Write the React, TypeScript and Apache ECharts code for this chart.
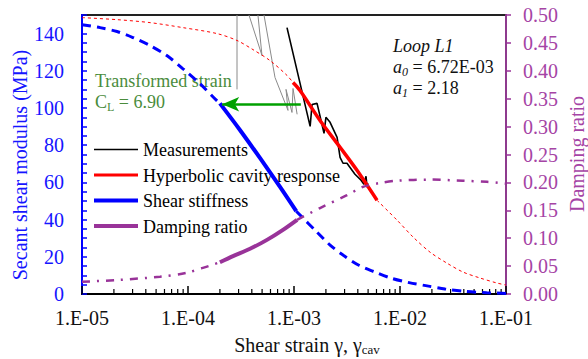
import React, { useEffect, useRef } from 'react';
import * as echarts from 'echarts';

const FONT = "Liberation Serif, Times New Roman, serif";

// X-axis decades (tick labels)
const decadeStrains = [1e-5, 1e-4, 1e-3, 1e-2, 1e-1];
const minorMultipliers = [2, 3, 4, 5, 6, 7, 8, 9];

// Measurements (black, last loop)
const measStrain = [8.59e-4, 1.42e-3, 1.48e-3, 1.65e-3, 1.92e-3, 2.0e-3, 2.19e-3, 2.55e-3, 2.72e-3, 2.9e-3, 3.16e-3, 3.76e-3, 4.29e-3, 4.57e-3, 4.78e-3, 4.89e-3, 4.99e-3];
const measModulus = [143.2, 90.1, 101.9, 102.5, 86.4, 95.0, 92.3, 84.2, 73.5, 70.3, 70.3, 64.4, 61.2, 59.0, 63.3, 57.4, 59.5];

// Earlier loops (grey); null = break in the line
const greyStrain = [2.9e-4, 2.9e-4, 3.3e-4, 3.76e-4, 4.99e-4, 4.57e-4, 4.9e-4, 5.21e-4, 6.62e-4, 8.78e-4, 8.41e-4, 9.57e-4, 9.79e-4, 1.07e-3];
const greyModulus = [150, 110.0, null, 150, 128.2, 150, null, 150, 116.4, 98.7, 110.0, 97.6, 110.5, 96.6];

// Hyperbolic cavity response (red)
const hypStrainA = [1e-5, 2.14e-5, 4.39e-5, 8.98e-5, 1.88e-4, 2.9e-4, 4.1e-4, 5.94e-4, 8.6e-4, 9.79e-4];
const hypModulusA = [148.6, 147.5, 145.9, 143.2, 140.0, 136.3, 131.4, 125.5, 117.5, 113.7];
const hypStrainFit = [9.79e-4, 1.14e-3, 1.76e-3, 2.72e-3, 3.93e-3, 6.07e-3];
const hypModulusFit = [113.7, 109.4, 93.3, 78.9, 66.5, 50.4];
const hypStrainB = [6.07e-3, 9.38e-3, 1.33e-2, 1.92e-2, 2.77e-2, 3.93e-2, 5.69e-2, 8.22e-2, 1e-1];
const hypModulusB = [50.4, 39.7, 30.6, 22.5, 16.6, 11.8, 8.6, 5.9, 4.8];

// Shear stiffness (blue)
const stiffStrainA = [1e-5, 1.48e-5, 2.14e-5, 3.02e-5, 4.37e-5, 6.31e-5, 8.91e-5, 1.29e-4, 1.86e-4, 2.0e-4];
const stiffModulusA = [144.8, 143.2, 141.1, 137.9, 133.6, 128.2, 121.2, 113.2, 104.1, 102.5];
const stiffStrainFit = [2.0e-4, 3.09e-4, 4.79e-4, 7.41e-4, 1.05e-3];
const stiffModulusFit = [102.5, 88.2, 73.0, 57.4, 44.5];
const stiffStrainB = [1.05e-3, 1.64e-3, 2.19e-3, 2.92e-3, 4.05e-3, 5.69e-3, 8.17e-3, 1.22e-2, 1.75e-2, 2.66e-2, 4.1e-2, 6.58e-2, 1e-1];
const stiffModulusB = [44.5, 33.4, 26.3, 20.8, 15.6, 12.0, 8.6, 6.1, 4.5, 2.7, 1.4, 0.7, 0.3];

// Damping ratio (purple, right axis)
const dampStrainA = [1e-5, 2.12e-5, 5.44e-5, 9.72e-5, 1.56e-4, 2.0e-4];
const dampA = [0.022, 0.025, 0.031, 0.038, 0.050, 0.057];
const dampStrainFit = [2.0e-4, 2.66e-4, 3.85e-4, 5.56e-4, 7.87e-4, 1.07e-3];
const dampFit = [0.057, 0.068, 0.081, 0.097, 0.115, 0.133];
const dampStrainB = [1.07e-3, 1.76e-3, 3.16e-3, 4.48e-3, 6.47e-3, 9.38e-3, 1.92e-2, 3.93e-2, 6.62e-2, 1e-1];
const dampB = [0.133, 0.154, 0.177, 0.192, 0.199, 0.203, 0.205, 0.203, 0.201, 0.198];

// Transformed-strain arrow
const arrowStrain = [1.16e-3, 2.1e-4];
const arrowModulus = 102;

const legendItems = ['Measurements', 'Hyperbolic cavity response', 'Shear stiffness', 'Damping ratio'];

const BLUE = '#0000ff';
const BLUE_TEXT = '#1515ff';
const RED = '#ff0000';
const PURPLE = '#993399';
const PURPLE_TEXT = '#a544a5';
const GREEN = '#00a000';
const GREEN_TEXT = '#4a8c3c';

const pairs = (xs: number[], ys: (number | null)[]) => xs.map((x, i) => [x, ys[i] === null ? '-' : ys[i]]);

export default function App() {
  const ref = useRef<HTMLDivElement>(null);
  useEffect(() => {
    document.body.style.margin = '0';
    if (!ref.current) return;
    const chart = echarts.init(ref.current, undefined, { renderer: 'svg' });

    const minorTicks: number[][] = [];
    decadeStrains.slice(0, -1).forEach((d) => minorMultipliers.forEach((m) => minorTicks.push([d * m, 0])));

    const lineBase = { type: 'line', showSymbol: false, symbol: 'none', silent: true };

    const legendColors = ['#000', RED, BLUE, PURPLE];
    const legendWidths = [1.5, 3, 4, 4];
    const legendY = [149.5, 175, 200.5, 226];
    const legendGraphics: any[] = [];
    legendItems.forEach((name, i) => {
      legendGraphics.push({
        type: 'line', shape: { x1: 94, y1: legendY[i], x2: 138, y2: legendY[i] },
        style: { stroke: legendColors[i], lineWidth: legendWidths[i] },
      });
      legendGraphics.push({
        type: 'text', x: 143, y: legendY[i] + 0.5,
        style: { text: name, fontFamily: FONT, fontSize: 18, fill: '#000', align: 'left', verticalAlign: 'middle' },
      });
    });

    const option: any = {
      animation: false,
      grid: { left: 82, right: 82, top: 15, bottom: 65, show: true, borderColor: '#222', borderWidth: 2, backgroundColor: 'transparent' },
      xAxis: {
        type: 'log', logBase: 10, min: 1e-5, max: 1e-1,
        axisLine: { lineStyle: { color: '#000', width: 2 } },
        axisTick: { inside: true, length: 8, lineStyle: { color: '#000', width: 1.5 } },
        splitLine: { show: false },
        axisLabel: {
          color: '#111', fontFamily: FONT, fontSize: 20, margin: 14,
          formatter: (v: number) => {
            const e = Math.round(Math.log10(v));
            return '1.E' + (e < 0 ? '-' : '+') + String(Math.abs(e)).padStart(2, '0');
          },
        },
      },
      yAxis: [
        {
          type: 'value', min: 0, max: 150, interval: 5, position: 'left',
          axisLine: { show: true, lineStyle: { color: BLUE, width: 2 } },
          axisTick: { show: true, inside: true, length: 5, interval: 0, lineStyle: { color: BLUE, width: 1.5 } },
          splitLine: { show: false },
          axisLabel: {
            interval: 0, color: BLUE_TEXT, fontFamily: FONT, fontSize: 20, margin: 18,
            formatter: (v: number) => (Math.round(v) % 20 === 0 ? String(Math.round(v)) : ''),
          },
        },
        {
          type: 'value', min: 0, max: 0.5, interval: 0.05, position: 'right',
          axisLine: { show: true, lineStyle: { color: '#8e3a8e', width: 2 } },
          axisTick: { show: true, inside: false, length: 5, interval: 0, lineStyle: { color: PURPLE, width: 1.5 } },
          splitLine: { show: false },
          axisLabel: {
            interval: 0, color: PURPLE_TEXT, fontFamily: FONT, fontSize: 20, margin: 17,
            formatter: (v: number) => v.toFixed(2),
          },
        },
      ],
      series: [
        {
          type: 'custom', silent: true, clip: false, data: minorTicks, encode: { x: 0, y: 1 },
          renderItem: (params: any, api: any) => {
            const p = api.coord([api.value(0), api.value(1)]);
            return { type: 'line', shape: { x1: p[0], y1: p[1], x2: p[0], y2: p[1] - 5 }, style: { stroke: '#000', lineWidth: 1.2 } };
          },
        },
        { ...lineBase, name: 'Earlier loops', data: pairs(greyStrain, greyModulus), connectNulls: false, lineStyle: { color: '#8a8a8a', width: 1 } },
        { ...lineBase, name: 'Measurements', data: pairs(measStrain, measModulus), lineStyle: { color: '#000', width: 1.6 } },
        { ...lineBase, name: 'Hyperbolic (extrapolated)', data: pairs(hypStrainA, hypModulusA), smooth: 0.3, lineStyle: { color: RED, width: 1, type: [3, 3] } },
        { ...lineBase, name: 'Hyperbolic (extrapolated) 2', data: pairs(hypStrainB, hypModulusB), smooth: 0.3, lineStyle: { color: RED, width: 1, type: [3, 3] } },
        { ...lineBase, name: 'Hyperbolic cavity response', data: pairs(hypStrainFit, hypModulusFit), smooth: 0.3, lineStyle: { color: RED, width: 3.5 } },
        { ...lineBase, name: 'Shear stiffness (extrapolated)', data: pairs(stiffStrainA, stiffModulusA), smooth: 0.3, lineStyle: { color: BLUE, width: 3, type: [9, 6] } },
        { ...lineBase, name: 'Shear stiffness (extrapolated) 2', data: pairs(stiffStrainB, stiffModulusB), smooth: 0.3, lineStyle: { color: BLUE, width: 3, type: [9, 6] } },
        { ...lineBase, name: 'Shear stiffness', data: pairs(stiffStrainFit, stiffModulusFit), smooth: 0.3, lineStyle: { color: BLUE, width: 4 } },
        { ...lineBase, name: 'Damping (extrapolated)', yAxisIndex: 1, data: pairs(dampStrainA, dampA), smooth: 0.3, lineStyle: { color: PURPLE, width: 2.5, type: [8, 7, 2, 7] } },
        { ...lineBase, name: 'Damping (extrapolated) 2', yAxisIndex: 1, data: pairs(dampStrainB, dampB), smooth: 0.3, lineStyle: { color: PURPLE, width: 2.5, type: [8, 7, 2, 7] } },
        { ...lineBase, name: 'Damping ratio', yAxisIndex: 1, data: pairs(dampStrainFit, dampFit), smooth: 0.3, lineStyle: { color: PURPLE, width: 4 } },
        {
          ...lineBase, name: 'Transformed strain', data: [],
          markLine: {
            silent: true, animation: false, symbol: ['none', 'arrow'], symbolSize: [11, 17],
            label: { show: false },
            lineStyle: { color: GREEN, width: 2.5, type: 'solid' },
            data: [[{ coord: [arrowStrain[0], arrowModulus] }, { coord: [arrowStrain[1], arrowModulus] }]],
          },
        },
      ],
      graphic: [
        {
          type: 'text', x: 20, y: 165, rotation: Math.PI / 2,
          style: { text: 'Secant shear modulus (MPa)', fontFamily: FONT, fontSize: 20, fill: BLUE_TEXT, align: 'center', verticalAlign: 'middle' },
        },
        {
          type: 'text', x: 577, y: 154, rotation: Math.PI / 2,
          style: { text: 'Damping ratio', fontFamily: FONT, fontSize: 20, fill: PURPLE_TEXT, align: 'center', verticalAlign: 'middle' },
        },
        {
          type: 'text', x: 307, y: 345,
          style: {
            text: '{n|Shear strain γ, γ}{s|cav}', align: 'center', verticalAlign: 'middle',
            rich: {
              n: { fontFamily: FONT, fontSize: 20, fill: '#111' },
              s: { fontFamily: FONT, fontSize: 13, fill: '#111', padding: [9, 0, 0, 0] },
            },
          },
        },
        {
          type: 'text', x: 95, y: 80.5,
          style: { text: 'Transformed strain', fontFamily: FONT, fontSize: 18, fill: GREEN_TEXT, align: 'left', verticalAlign: 'middle' },
        },
        {
          type: 'text', x: 95, y: 102,
          style: {
            text: '{n|C}{s|L}{n| = 6.90}', align: 'left', verticalAlign: 'middle',
            rich: {
              n: { fontFamily: FONT, fontSize: 18, fill: GREEN_TEXT },
              s: { fontFamily: FONT, fontSize: 12, fill: GREEN_TEXT, padding: [10, 0, 0, 0] },
            },
          },
        },
        {
          type: 'text', x: 393, y: 46,
          style: { text: 'Loop L1', fontFamily: FONT, fontSize: 18, fontStyle: 'italic', fill: '#111', align: 'left', verticalAlign: 'middle' },
        },
        {
          type: 'text', x: 393, y: 67,
          style: {
            text: '{i|a}{s|0}{n| = 6.72E-03}', align: 'left', verticalAlign: 'middle',
            rich: {
              i: { fontFamily: FONT, fontSize: 18, fontStyle: 'italic', fill: '#111' },
              s: { fontFamily: FONT, fontSize: 12, fontStyle: 'italic', fill: '#111', padding: [10, 0, 0, 0] },
              n: { fontFamily: FONT, fontSize: 18, fill: '#111' },
            },
          },
        },
        {
          type: 'text', x: 393, y: 88,
          style: {
            text: '{i|a}{s|1}{n| = 2.18}', align: 'left', verticalAlign: 'middle',
            rich: {
              i: { fontFamily: FONT, fontSize: 18, fontStyle: 'italic', fill: '#111' },
              s: { fontFamily: FONT, fontSize: 12, fontStyle: 'italic', fill: '#111', padding: [10, 0, 0, 0] },
              n: { fontFamily: FONT, fontSize: 18, fill: '#111' },
            },
          },
        },
        ...legendGraphics,
      ],
    };
    chart.setOption(option);
    return () => chart.dispose();
  }, []);
  return <div ref={ref} style={{ width: 588, height: 359 }} />;
}
